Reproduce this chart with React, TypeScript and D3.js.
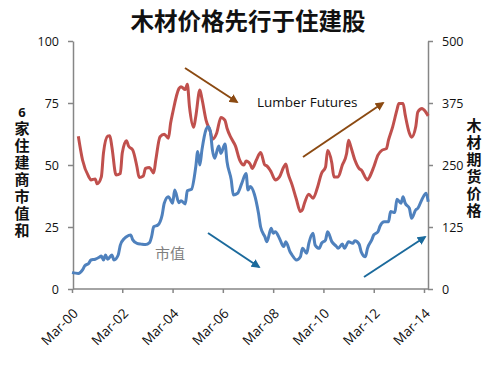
import * as d3 from 'd3';
import React, { useEffect, useRef } from 'react';

const width = 500;
const height = 366;
const plot = { left: 73, right: 428, top: 41, bottom: 289 };
const red = '#c0504d';
const blue = '#4f81bd';
const axisGray = '#868686';
const brown = '#8b4a12';
const teal = '#1b6a9c';

const title = '木材价格先行于住建股';
const leftTitleTop = '6';
const leftTitle = '家住建商市值和';
const rightTitle = '木材期货价格';
const lumberLabel = 'Lumber Futures';
const stockLabel = '市值';

const xTickLabels = ['Mar-00', 'Mar-02', 'Mar-04', 'Mar-06', 'Mar-08', 'Mar-10', 'Mar-12', 'Mar-14'];
const leftTicks = [0, 25, 50, 75, 100];
const rightTicks = [0, 125, 250, 375, 500];

// lumber futures, right axis
const lumberDates = [
  '2000-06', '2000-08', '2000-11', '2000-12', '2001-02', '2001-03', '2001-05', '2001-06', '2001-08', '2001-09',
  '2001-10', '2001-12', '2002-02', '2002-03', '2002-05', '2002-06', '2002-08', '2002-10', '2002-11', '2003-01',
  '2003-02', '2003-04', '2003-06', '2003-07', '2003-09', '2003-11', '2004-01', '2004-02', '2004-03', '2004-06',
  '2004-07', '2004-09', '2004-10', '2004-11', '2005-01', '2005-02', '2005-04', '2005-05', '2005-07', '2005-09',
  '2005-10', '2005-12', '2006-02', '2006-04', '2006-05', '2006-07', '2006-09', '2006-11', '2007-01', '2007-02',
  '2007-04', '2007-05', '2007-07', '2007-09', '2007-11', '2007-12', '2008-02', '2008-04', '2008-06', '2008-08',
  '2008-09', '2008-10', '2008-12', '2009-02', '2009-04', '2009-05', '2009-06', '2009-08', '2009-10', '2009-12',
  '2010-02', '2010-04', '2010-05', '2010-07', '2010-08', '2010-10', '2010-12', '2011-02', '2011-03', '2011-04',
  '2011-06', '2011-08', '2011-09', '2011-12', '2012-01', '2012-03', '2012-05', '2012-07', '2012-09', '2012-10',
  '2012-12', '2013-02', '2013-03', '2013-05', '2013-06', '2013-08', '2013-09', '2013-11', '2013-12', '2014-02',
  '2014-03', '2014-05'
];
const lumberValues = [
  308, 260, 226, 220, 222, 212, 226, 274, 308, 309,
  287, 230, 233, 274, 299, 288, 280, 246, 225, 228,
  243, 245, 234, 260, 307, 312, 304, 334, 354, 404,
  408, 402, 413, 368, 326, 348, 401, 384, 340, 317,
  302, 314, 346, 340, 324, 304, 288, 260, 250, 258,
  252, 243, 260, 275, 250, 248, 236, 220, 226, 246,
  252, 234, 210, 181, 156, 160, 174, 191, 183, 203,
  233, 246, 279, 254, 226, 226, 250, 273, 300, 288,
  260, 243, 240, 220, 226, 246, 270, 280, 283, 300,
  327, 361, 374, 374, 351, 314, 306, 327, 357, 364,
  361, 349
];

// market cap of 6 homebuilders, left axis
const stockDates = [
  '2000-03', '2000-06', '2000-08', '2000-09', '2000-11', '2000-12', '2001-02', '2001-04', '2001-05', '2001-06',
  '2001-07', '2001-08', '2001-10', '2001-11', '2002-01', '2002-02', '2002-04', '2002-05', '2002-07', '2002-08',
  '2002-10', '2002-12', '2003-02', '2003-04', '2003-05', '2003-06', '2003-08', '2003-10', '2003-11', '2004-01',
  '2004-02', '2004-03', '2004-04', '2004-06', '2004-07', '2004-09', '2004-10', '2004-12', '2005-02', '2005-03',
  '2005-04', '2005-05', '2005-07', '2005-08', '2005-09', '2005-10', '2005-11', '2006-01', '2006-02', '2006-04',
  '2006-05', '2006-07', '2006-08', '2006-10', '2006-12', '2007-02', '2007-03', '2007-04', '2007-06', '2007-08',
  '2007-09', '2007-11', '2007-12', '2008-02', '2008-03', '2008-04', '2008-06', '2008-08', '2008-09', '2008-11',
  '2008-12', '2009-02', '2009-04', '2009-05', '2009-07', '2009-08', '2009-10', '2009-11', '2010-01', '2010-02',
  '2010-04', '2010-05', '2010-07', '2010-09', '2010-10', '2010-12', '2011-01', '2011-03', '2011-05', '2011-06',
  '2011-08', '2011-09', '2011-11', '2011-12', '2012-02', '2012-03', '2012-05', '2012-06', '2012-08', '2012-10',
  '2012-11', '2013-01', '2013-02', '2013-04', '2013-05', '2013-06', '2013-08', '2013-09', '2013-11', '2013-12',
  '2014-02', '2014-04', '2014-05'
];
const stockValues = [
  6.6, 6.3, 7.7, 9.3, 10.4, 11.7, 12, 12.8, 13.3, 11.7,
  13.7, 12, 13.7, 11.7, 13.7, 17.7, 20.4, 21.1, 21.8, 19.8,
  18.4, 18.1, 17.9, 18.7, 21.1, 25.1, 25.8, 29.8, 34.6, 37.2,
  35.9, 34.6, 39.9, 34.8, 35.6, 34.3, 39.6, 40.2, 49.3, 55.4,
  50, 56, 64.4, 65.4, 63.4, 56, 52.7, 57.7, 54.7, 58.5,
  51.3, 44, 37.9, 38.6, 42.6, 46.6, 39.9, 41.3, 38.3, 30.5,
  25, 21.1, 19.1, 24.5, 22.5, 23.1, 20.4, 17.1, 19.1, 15,
  13.7, 11.7, 13, 16.4, 14.4, 18.4, 22.5, 17.7, 16.4, 18.4,
  19.8, 23.1, 19.1, 17.3, 16.4, 18.1, 16.4, 19.1, 18.4, 19.5,
  18.1, 15, 13, 16.4, 19.8, 21.8, 23.1, 25.4, 27.1, 27.1,
  31.2, 30.8, 36.2, 34.6, 37.2, 34.6, 32.5, 28.5, 31.9, 32.5,
  36.2, 38.6, 35.2
];

// annotation arrows: [x1, y1, x2, y2] in plot pixels
const arrows = [
  { pts: [185, 68, 237, 102], color: brown },
  { pts: [303, 157, 383, 103], color: brown },
  { pts: [208, 233, 259, 267], color: teal },
  { pts: [364, 277, 425, 237], color: teal }
];

const parseMonth = d3.timeParse('%Y-%m');
const parseTick = d3.timeParse('%b-%y');

const xScale = d3
  .scaleTime()
  .domain([new Date(2000, 2, 1), new Date(2014, 2, 1)])
  .range([72, 424]);
const yLeft = d3.scaleLinear().domain([0, 100]).range([plot.bottom, plot.top]);
const yRight = d3.scaleLinear().domain([0, 500]).range([plot.bottom, plot.top]);

const lumber = lumberDates.map((d, i) => ({ date: parseMonth(d), v: lumberValues[i] }));
const stock = stockDates.map((d, i) => ({ date: parseMonth(d), v: stockValues[i] }));

const lumberLine = d3
  .line()
  .x(d => xScale(d.date))
  .y(d => yRight(d.v))
  .curve(d3.curveMonotoneX);
const stockLine = d3
  .line()
  .x(d => xScale(d.date))
  .y(d => yLeft(d.v))
  .curve(d3.curveMonotoneX);

const numFont = '"Open Sans", "Liberation Sans", sans-serif';
const cjkFont = '"Noto Sans CJK SC", sans-serif';

export default function App() {
  const leftRef = useRef(null);
  const rightRef = useRef(null);
  const bottomRef = useRef(null);

  useEffect(() => {
    const style = g => {
      g.select('.domain').attr('stroke', axisGray).attr('stroke-width', 1.5);
      g.selectAll('.tick line').attr('stroke', axisGray).attr('stroke-width', 1.5);
      g.selectAll('.tick text')
        .attr('fill', '#111')
        .style('font-family', numFont)
        .style('font-size', '12.5px');
    };

    d3.select(leftRef.current)
      .call(d3.axisLeft(yLeft).tickValues(leftTicks).tickSizeInner(5).tickSizeOuter(0).tickPadding(9))
      .call(style);
    d3.select(rightRef.current)
      .call(d3.axisRight(yRight).tickValues(rightTicks).tickSizeInner(5).tickSizeOuter(0).tickPadding(9))
      .call(style);

    const xAxis = d3
      .axisBottom(xScale)
      .tickValues(xTickLabels.map(s => parseTick(s)))
      .tickFormat(d3.timeFormat('%b-%y'))
      .tickSizeInner(4)
      .tickSizeOuter(0);
    const gx = d3.select(bottomRef.current).call(xAxis).call(style);
    gx.select('.domain').attr('d', `M${plot.left},0H${plot.right}`);
    gx.selectAll('.tick text')
      .attr('text-anchor', 'end')
      .attr('dy', '0.35em')
      .attr('transform', 'translate(3,22) rotate(-45)')
      .attr('x', 0)
      .attr('y', 0)
      .style('font-size', '13.5px');
  }, []);

  return (
    <svg
      width={width}
      height={height}
      style={{ position: 'absolute', left: 0, top: 0, background: '#fff' }}
    >
      <defs>
        {arrows.map((a, i) => (
          <marker
            key={i}
            id={`head${i}`}
            viewBox="0 0 10 10"
            refX="8"
            refY="5"
            markerWidth="4.5"
            markerHeight="4.5"
            orient="auto"
          >
            <path d="M0,0L10,5L0,10z" fill={a.color} />
          </marker>
        ))}
      </defs>

      <text
        x={248}
        y={30}
        textAnchor="middle"
        fontFamily={cjkFont}
        fontWeight="bold"
        fontSize={23.5}
        fill="#111"
      >
        {title}
      </text>

      <g ref={leftRef} transform={`translate(${plot.left},0)`} />
      <g ref={rightRef} transform={`translate(${plot.right},0)`} />
      <g ref={bottomRef} transform={`translate(0,${plot.bottom})`} />

      <path d={lumberLine(lumber)} fill="none" stroke={red} strokeWidth={3} strokeLinejoin="round" />
      <path d={stockLine(stock)} fill="none" stroke={blue} strokeWidth={3} strokeLinejoin="round" />

      {arrows.map((a, i) => (
        <line
          key={i}
          x1={a.pts[0]}
          y1={a.pts[1]}
          x2={a.pts[2]}
          y2={a.pts[3]}
          stroke={a.color}
          strokeWidth={2}
          markerEnd={`url(#head${i})`}
        />
      ))}

      <text x={257} y={107} fontFamily={numFont} fontSize={13.5} fill="#111">
        {lumberLabel}
      </text>
      <text x={155} y={259} fontFamily={cjkFont} fontSize={15} fill="#7f7f7f">
        {stockLabel}
      </text>

      <text x={22} y={117} textAnchor="middle" fontFamily={numFont} fontWeight="bold" fontSize={13} fill="#111">
        {leftTitleTop}
      </text>
      <text
        x={22}
        y={121}
        writingMode="vertical-rl"
        style={{ textOrientation: 'upright', letterSpacing: '2px' }}
        fontFamily={cjkFont}
        fontWeight="bold"
        fontSize={15}
        fill="#111"
      >
        {leftTitle}
      </text>
      <text
        x={474}
        y={118}
        writingMode="vertical-rl"
        style={{ textOrientation: 'upright', letterSpacing: '2px' }}
        fontFamily={cjkFont}
        fontWeight="bold"
        fontSize={15}
        fill="#111"
      >
        {rightTitle}
      </text>
    </svg>
  );
}
